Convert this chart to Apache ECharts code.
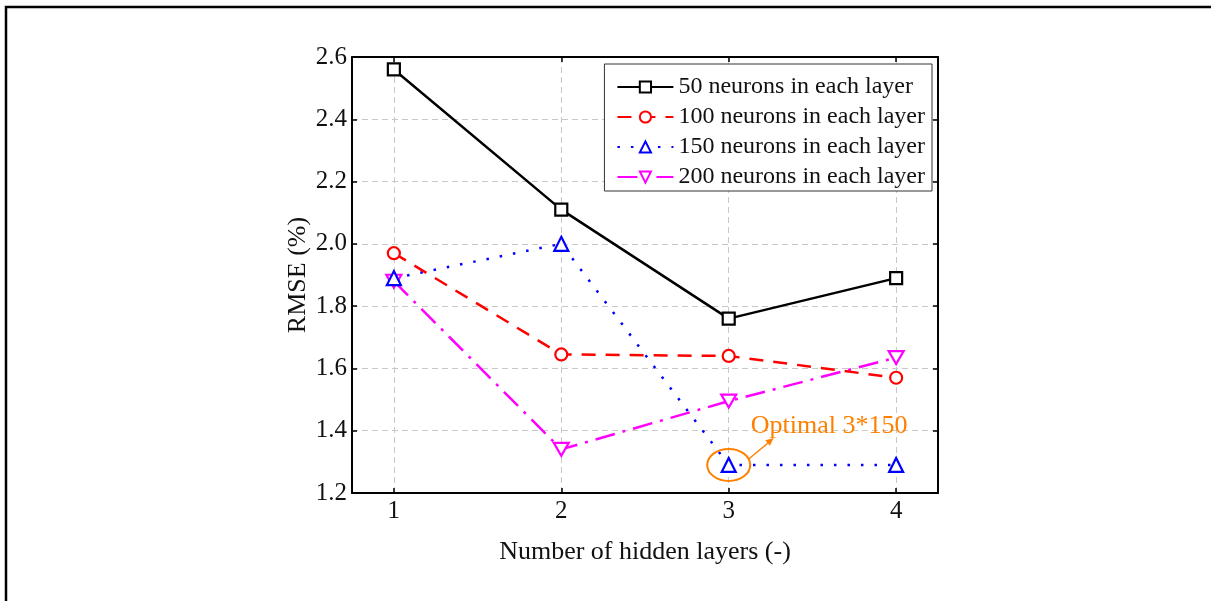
<!DOCTYPE html>
<html><head><meta charset="utf-8">
<script src="https://cdn.jsdelivr.net/npm/echarts@6/dist/echarts.min.js"></script>
<style>html,body{margin:0;padding:0;background:#fff}#c{width:1211px;height:601px}</style>
</head><body><div id="c"></div>
<script>
const layers = [1, 2, 3, 4];
const seriesNames = ['50 neurons in each layer', '100 neurons in each layer', '150 neurons in each layer', '200 neurons in each layer'];
const rmse50 = [2.56, 2.11, 1.76, 1.89];
const rmse100 = [1.97, 1.645, 1.64, 1.57];
const rmse150 = [1.89, 2.00, 1.29, 1.29];
const rmse200 = [1.88, 1.34, 1.495, 1.635];
const optimalPoint = [3, 1.29];
const annotationText = 'Optimal 3*150';
const xTitle = 'Number of hidden layers (-)';
const yTitle = 'RMSE (%)';

const FONT = "'Liberation Serif', 'Times New Roman', serif";
const chart = echarts.init(document.getElementById('c'), null, {renderer: 'canvas'});
const pts = vals => layers.map((x, i) => [x, vals[i]]);
const downTri = 'path://M0,0 L10,0 L5,8.66 Z';

const styles = [
  {color: '#000000', type: 'solid', symbol: 'rect', size: 12},
  {color: '#ff0000', type: [14, 10], symbol: 'circle', size: 12},
  {color: '#0000ff', type: [2.5, 11], symbol: 'triangle', size: 14},
  {color: '#ff00ff', type: [20, 8, 3, 8], symbol: downTri, size: 15}
];
const allVals = [rmse50, rmse100, rmse150, rmse200];

const series = allVals.map((v, i) => ({
  name: seriesNames[i],
  type: 'line',
  data: pts(v),
  symbol: styles[i].symbol,
  symbolSize: styles[i].size,
  symbolKeepAspect: true,
  showAllSymbol: true,
  lineStyle: {color: styles[i].color, width: 2.5, type: styles[i].type},
  itemStyle: {color: '#ffffff', borderColor: styles[i].color, borderWidth: 2.2},
  emphasis: {disabled: true},
  z: 10 - i
}));

const axisLineStyle = {show: true, lineStyle: {color: '#000', width: 2}};
const splitStyle = {show: true, lineStyle: {color: '#c8c8c8', width: 1, type: [6, 4]}};

chart.setOption({
  animation: false,
  backgroundColor: '#ffffff',
  textStyle: {fontFamily: FONT},
  grid: {left: 352, right: 273, top: 57, bottom: 108, containLabel: false},
  legend: {
    right: 1211 - 932, top: 64,
    orient: 'vertical',
    itemWidth: 56, itemHeight: 14, itemGap: 6,
    padding: [11, 7, 2, 12],
    backgroundColor: '#ffffff',
    borderColor: '#333', borderWidth: 1,
    textStyle: {fontFamily: FONT, fontSize: 24, color: '#111', lineHeight: 24},
    data: seriesNames.map(n => ({name: n})),
    z: 20
  },
  xAxis: [{
    type: 'value', min: 0.75, max: 4.25,
    name: xTitle, nameLocation: 'middle', nameGap: 46,
    nameTextStyle: {fontFamily: FONT, fontSize: 26, color: '#111'},
    axisLine: axisLineStyle,
    axisTick: {show: true, inside: true, length: 5, customValues: layers, lineStyle: {color: '#000', width: 1.5}},
    axisLabel: {customValues: layers, fontFamily: FONT, fontSize: 25, color: '#111', margin: 6},
    splitLine: splitStyle
  }, {
    type: 'value', min: 0.75, max: 4.25, position: 'top',
    axisLine: axisLineStyle,
    axisTick: {show: true, inside: true, length: 5, customValues: layers, lineStyle: {color: '#000', width: 1.5}},
    axisLabel: {show: false},
    splitLine: {show: false}
  }],
  yAxis: [{
    type: 'value', min: 1.2, max: 2.6, interval: 0.2,
    name: yTitle, nameLocation: 'middle', nameGap: 41,
    nameTextStyle: {fontFamily: FONT, fontSize: 26, color: '#111'},
    axisLine: axisLineStyle,
    axisTick: {show: true, inside: true, length: 5, lineStyle: {color: '#000', width: 1.5}},
    axisLabel: {fontFamily: FONT, fontSize: 25, color: '#111', margin: 5, formatter: v => v.toFixed(1)},
    splitLine: splitStyle
  }, {
    type: 'value', min: 1.2, max: 2.6, interval: 0.2, position: 'right',
    axisLine: axisLineStyle,
    axisTick: {show: true, inside: true, length: 5, lineStyle: {color: '#000', width: 1.5}},
    axisLabel: {show: false},
    splitLine: {show: false}
  }],
  series: series
});

// Annotation around the optimal point
const c = chart.convertToPixel({xAxisIndex: 0, yAxisIndex: 0}, optimalPoint);
const orange = '#ff8000';
chart.setOption({
  graphic: [
    {type: 'polyline', silent: true, z: 100,
     shape: {points: [[6, 601], [6, 7], [1211, 7]]},
     style: {stroke: '#000', lineWidth: 2.5, fill: null}},
    {type: 'ellipse', silent: true, z: 50,
     shape: {cx: c[0], cy: c[1], rx: 21.5, ry: 16},
     style: {stroke: orange, lineWidth: 2, fill: null}},
    {type: 'line', silent: true, z: 50,
     shape: {x1: c[0] + 20, y1: c[1] - 6, x2: c[0] + 43, y2: c[1] - 25},
     style: {stroke: orange, lineWidth: 1.5}},
    {type: 'polygon', silent: true, z: 50,
     shape: {points: (() => {
       const x2 = c[0] + 45, y2 = c[1] - 27, ang = Math.atan2(-25 + 6, 43 - 20);
       const L = 8, W = 3.5;
       const bx = x2 - L * Math.cos(ang), by = y2 - L * Math.sin(ang);
       const px = -Math.sin(ang) * W, py = Math.cos(ang) * W;
       return [[x2, y2], [bx + px, by + py], [bx - px, by - py]];
     })()},
     style: {fill: orange}},
    {type: 'text', silent: true, z: 50,
     x: c[0] + 22, y: c[1] - 39,
     style: {text: annotationText, fill: orange, font: '26px ' + FONT, verticalAlign: 'middle', align: 'left'}}
  ]
});
</script></body></html>
